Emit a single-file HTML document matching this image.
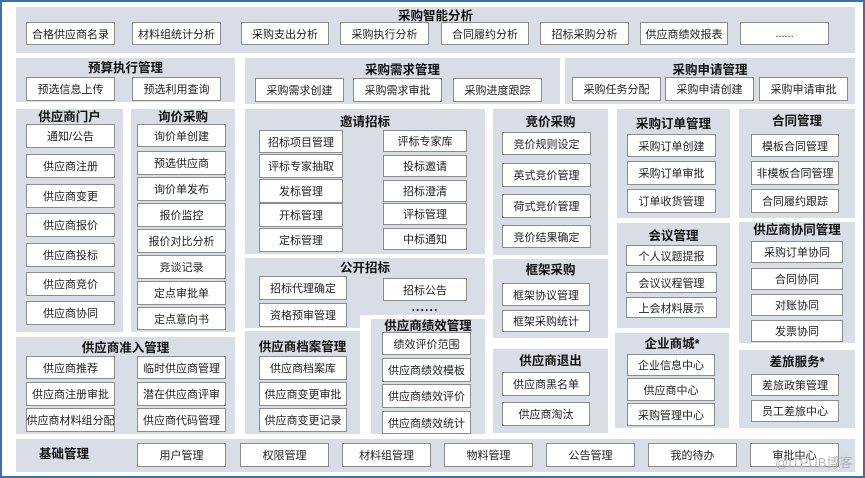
<!DOCTYPE html>
<html><head><meta charset="utf-8"><style>
body{margin:0;width:865px;height:478px;background:#fff;position:relative;overflow:hidden;font-family:"Liberation Sans","Noto Sans CJK SC",sans-serif;}
.frame{position:absolute;left:0;top:0;width:861px;height:474px;border:2px solid #3f6fa6;}
.p{position:absolute;background:#d8dde6;}
.t{position:absolute;font-weight:bold;font-size:12.5px;color:#111;text-align:center;white-space:nowrap;line-height:14px;}
.b{position:absolute;background:#fff;border:1px solid #8c8c8c;box-sizing:border-box;font-size:11px;color:#222;text-align:center;white-space:nowrap;display:flex;align-items:center;justify-content:center;}
</style></head><body>
<div class="frame"></div>
<!-- panels -->
<div class="p" style="left:16px;top:7px;width:839px;height:46px"></div>
<div class="p" style="left:16px;top:58px;width:219px;height:44px"></div>
<div class="p" style="left:245px;top:58px;width:315px;height:46px"></div>
<div class="p" style="left:565px;top:58px;width:290px;height:46px"></div>
<div class="p" style="left:16px;top:109px;width:107px;height:223px"></div>
<div class="p" style="left:131px;top:109px;width:104px;height:223px"></div>
<div class="p" style="left:245px;top:109px;width:240px;height:145px"></div>
<div class="p" style="left:245px;top:258px;width:240px;height:57px"></div>
<div class="p" style="left:245px;top:315px;width:115px;height:13px"></div>
<div class="p" style="left:16px;top:337px;width:219px;height:97px"></div>
<div class="p" style="left:245px;top:331px;width:115px;height:103px"></div>
<div class="p" style="left:371px;top:319px;width:114px;height:115px"></div>
<div class="p" style="left:493px;top:109px;width:115px;height:146px"></div>
<div class="p" style="left:493px;top:259px;width:115px;height:79px"></div>
<div class="p" style="left:493px;top:349px;width:115px;height:84px"></div>
<div class="p" style="left:617px;top:109px;width:113px;height:109px"></div>
<div class="p" style="left:617px;top:223px;width:113px;height:105px"></div>
<div class="p" style="left:615px;top:333px;width:114px;height:95px"></div>
<div class="p" style="left:739px;top:109px;width:116px;height:109px"></div>
<div class="p" style="left:739px;top:222px;width:116px;height:121px"></div>
<div class="p" style="left:739px;top:350px;width:116px;height:78px"></div>
<div class="p" style="left:16px;top:439px;width:839px;height:33px"></div>

<!-- titles -->
<div class="t" style="left:16px;width:839px;top:9px">采购智能分析</div>
<div class="t" style="left:16px;width:219px;top:61px">预算执行管理</div>
<div class="t" style="left:245px;width:315px;top:63px">采购需求管理</div>
<div class="t" style="left:565px;width:290px;top:63px">采购申请管理</div>
<div class="t" style="left:16px;width:107px;top:110px">供应商门户</div>
<div class="t" style="left:131px;width:104px;top:110px">询价采购</div>
<div class="t" style="left:245px;width:240px;top:115px">邀请招标</div>
<div class="t" style="left:245px;width:240px;top:261px">公开招标</div>
<div class="t" style="left:16px;width:219px;top:341px">供应商准入管理</div>
<div class="t" style="left:245px;width:115px;top:340px">供应商档案管理</div>
<div class="t" style="left:371px;width:114px;top:319px">供应商绩效管理</div>
<div class="t" style="left:493px;width:115px;top:115px">竞价采购</div>
<div class="t" style="left:493px;width:115px;top:263px">框架采购</div>
<div class="t" style="left:493px;width:115px;top:354px">供应商退出</div>
<div class="t" style="left:617px;width:113px;top:117px">采购订单管理</div>
<div class="t" style="left:617px;width:113px;top:229px">会议管理</div>
<div class="t" style="left:615px;width:114px;top:337px">企业商城*</div>
<div class="t" style="left:739px;width:116px;top:114px">合同管理</div>
<div class="t" style="left:739px;width:116px;top:223px">供应商协同管理</div>
<div class="t" style="left:739px;width:116px;top:355px">差旅服务*</div>
<div class="t" style="left:24px;width:80px;top:447px">基础管理</div>
<div class="t" style="left:395px;width:60px;top:300px;letter-spacing:1px">......</div>

<!-- top row -->
<div class="b" style="left:26px;top:22px;width:89px;height:23px">合格供应商名录</div>
<div class="b" style="left:132px;top:22px;width:89px;height:23px">材料组统计分析</div>
<div class="b" style="left:241px;top:22px;width:88px;height:23px">采购支出分析</div>
<div class="b" style="left:340px;top:22px;width:89px;height:23px">采购执行分析</div>
<div class="b" style="left:441px;top:22px;width:88px;height:23px">合同履约分析</div>
<div class="b" style="left:540px;top:22px;width:89px;height:23px">招标采购分析</div>
<div class="b" style="left:640px;top:22px;width:88px;height:23px">供应商绩效报表</div>
<div class="b" style="left:740px;top:22px;width:89px;height:23px">......</div>

<div class="b" style="left:26px;top:77px;width:89px;height:24px">预选信息上传</div>
<div class="b" style="left:132px;top:77px;width:89px;height:24px">预选利用查询</div>
<div class="b" style="left:255px;top:78px;width:89px;height:24px">采购需求创建</div>
<div class="b" style="left:353px;top:78px;width:89px;height:24px">采购需求审批</div>
<div class="b" style="left:453px;top:78px;width:89px;height:24px">采购进度跟踪</div>
<div class="b" style="left:572px;top:77px;width:89px;height:24px">采购任务分配</div>
<div class="b" style="left:665px;top:77px;width:89px;height:24px">采购申请创建</div>
<div class="b" style="left:759px;top:77px;width:89px;height:24px">采购申请审批</div>

<!-- 供应商门户 -->
<div class="b" style="left:26px;top:124px;width:89px;height:24px">通知/公告</div>
<div class="b" style="left:26px;top:154px;width:89px;height:24px">供应商注册</div>
<div class="b" style="left:26px;top:184px;width:89px;height:24px">供应商变更</div>
<div class="b" style="left:26px;top:213px;width:89px;height:24px">供应商报价</div>
<div class="b" style="left:26px;top:243px;width:89px;height:24px">供应商投标</div>
<div class="b" style="left:26px;top:272px;width:89px;height:24px">供应商竞价</div>
<div class="b" style="left:26px;top:301px;width:89px;height:24px">供应商协同</div>
<!-- 询价采购 -->
<div class="b" style="left:137px;top:124px;width:89px;height:23px">询价单创建</div>
<div class="b" style="left:137px;top:151px;width:89px;height:24px">预选供应商</div>
<div class="b" style="left:137px;top:177px;width:89px;height:24px">询价单发布</div>
<div class="b" style="left:137px;top:203px;width:89px;height:24px">报价监控</div>
<div class="b" style="left:137px;top:229px;width:89px;height:24px">报价对比分析</div>
<div class="b" style="left:137px;top:255px;width:89px;height:24px">竞谈记录</div>
<div class="b" style="left:137px;top:281px;width:89px;height:24px">定点审批单</div>
<div class="b" style="left:137px;top:307px;width:89px;height:23px">定点意向书</div>
<!-- 邀请招标 -->
<div class="b" style="left:259px;top:130px;width:84px;height:23px">招标项目管理</div>
<div class="b" style="left:259px;top:154px;width:84px;height:24px">评标专家抽取</div>
<div class="b" style="left:259px;top:179px;width:84px;height:24px">发标管理</div>
<div class="b" style="left:259px;top:203px;width:84px;height:24px">开标管理</div>
<div class="b" style="left:259px;top:228px;width:84px;height:24px">定标管理</div>
<div class="b" style="left:383px;top:130px;width:84px;height:22px">评标专家库</div>
<div class="b" style="left:383px;top:155px;width:84px;height:22px">投标邀请</div>
<div class="b" style="left:383px;top:180px;width:84px;height:22px">招标澄清</div>
<div class="b" style="left:383px;top:203px;width:84px;height:22px">评标管理</div>
<div class="b" style="left:383px;top:228px;width:84px;height:22px">中标通知</div>
<!-- 公开招标 -->
<div class="b" style="left:259px;top:276px;width:88px;height:24px">招标代理确定</div>
<div class="b" style="left:383px;top:278px;width:84px;height:23px">招标公告</div>
<div class="b" style="left:259px;top:303px;width:88px;height:24px">资格预审管理</div>
<!-- 准入 -->
<div class="b" style="left:26px;top:356px;width:89px;height:23px">供应商推荐</div>
<div class="b" style="left:26px;top:382px;width:89px;height:24px">供应商注册审批</div>
<div class="b" style="left:26px;top:408px;width:89px;height:24px">供应商材料组分配</div>
<div class="b" style="left:137px;top:356px;width:89px;height:23px">临时供应商管理</div>
<div class="b" style="left:137px;top:382px;width:89px;height:24px">潜在供应商评审</div>
<div class="b" style="left:137px;top:408px;width:89px;height:24px">供应商代码管理</div>
<!-- 档案 -->
<div class="b" style="left:259px;top:356px;width:88px;height:24px">供应商档案库</div>
<div class="b" style="left:259px;top:382px;width:88px;height:24px">供应商变更审批</div>
<div class="b" style="left:259px;top:408px;width:88px;height:24px">供应商变更记录</div>
<!-- 绩效 -->
<div class="b" style="left:382px;top:332px;width:89px;height:23px">绩效评价范围</div>
<div class="b" style="left:382px;top:358px;width:89px;height:24px">供应商绩效模板</div>
<div class="b" style="left:382px;top:384px;width:89px;height:24px">供应商绩效评价</div>
<div class="b" style="left:382px;top:411px;width:89px;height:23px">供应商绩效统计</div>
<!-- 竞价 -->
<div class="b" style="left:502px;top:132px;width:89px;height:23px">竞价规则设定</div>
<div class="b" style="left:502px;top:163px;width:89px;height:24px">英式竞价管理</div>
<div class="b" style="left:502px;top:194px;width:89px;height:24px">荷式竞价管理</div>
<div class="b" style="left:502px;top:225px;width:89px;height:23px">竞价结果确定</div>
<div class="b" style="left:502px;top:283px;width:88px;height:23px">框架协议管理</div>
<div class="b" style="left:502px;top:310px;width:88px;height:22px">框架采购统计</div>
<div class="b" style="left:502px;top:372px;width:88px;height:24px">供应商黑名单</div>
<div class="b" style="left:502px;top:402px;width:88px;height:24px">供应商淘汰</div>
<!-- 订单 -->
<div class="b" style="left:627px;top:134px;width:89px;height:23px">采购订单创建</div>
<div class="b" style="left:627px;top:161px;width:89px;height:24px">采购订单审批</div>
<div class="b" style="left:627px;top:189px;width:89px;height:24px">订单收货管理</div>
<div class="b" style="left:626px;top:245px;width:91px;height:21px">个人议题提报</div>
<div class="b" style="left:626px;top:272px;width:91px;height:21px">会议议程管理</div>
<div class="b" style="left:626px;top:297px;width:91px;height:21px">上会材料展示</div>
<div class="b" style="left:627px;top:354px;width:88px;height:22px">企业信息中心</div>
<div class="b" style="left:627px;top:378px;width:88px;height:23px">供应商中心</div>
<div class="b" style="left:627px;top:403px;width:88px;height:23px">采购管理中心</div>
<!-- 合同 -->
<div class="b" style="left:751px;top:134px;width:88px;height:23px">模板合同管理</div>
<div class="b" style="left:751px;top:161px;width:88px;height:24px">非模板合同管理</div>
<div class="b" style="left:751px;top:189px;width:88px;height:24px">合同履约跟踪</div>
<div class="b" style="left:751px;top:241px;width:92px;height:22px">采购订单协同</div>
<div class="b" style="left:751px;top:268px;width:92px;height:22px">合同协同</div>
<div class="b" style="left:751px;top:294px;width:92px;height:22px">对账协同</div>
<div class="b" style="left:751px;top:320px;width:92px;height:22px">发票协同</div>
<div class="b" style="left:751px;top:374px;width:88px;height:22px">差旅政策管理</div>
<div class="b" style="left:751px;top:400px;width:88px;height:22px">员工差旅中心</div>
<!-- 基础 -->
<div class="b" style="left:137px;top:443px;width:89px;height:24px">用户管理</div>
<div class="b" style="left:240px;top:443px;width:89px;height:24px">权限管理</div>
<div class="b" style="left:342px;top:443px;width:89px;height:24px">材料组管理</div>
<div class="b" style="left:444px;top:443px;width:89px;height:24px">物料管理</div>
<div class="b" style="left:546px;top:443px;width:89px;height:24px">公告管理</div>
<div class="b" style="left:648px;top:443px;width:89px;height:24px">我的待办</div>
<div class="b" style="left:750px;top:443px;width:89px;height:24px">审批中心</div>
<div style="position:absolute;left:775px;top:452px;font-size:13px;color:rgba(170,170,170,0.8)">@ITPUB博客</div>
</body></html>
